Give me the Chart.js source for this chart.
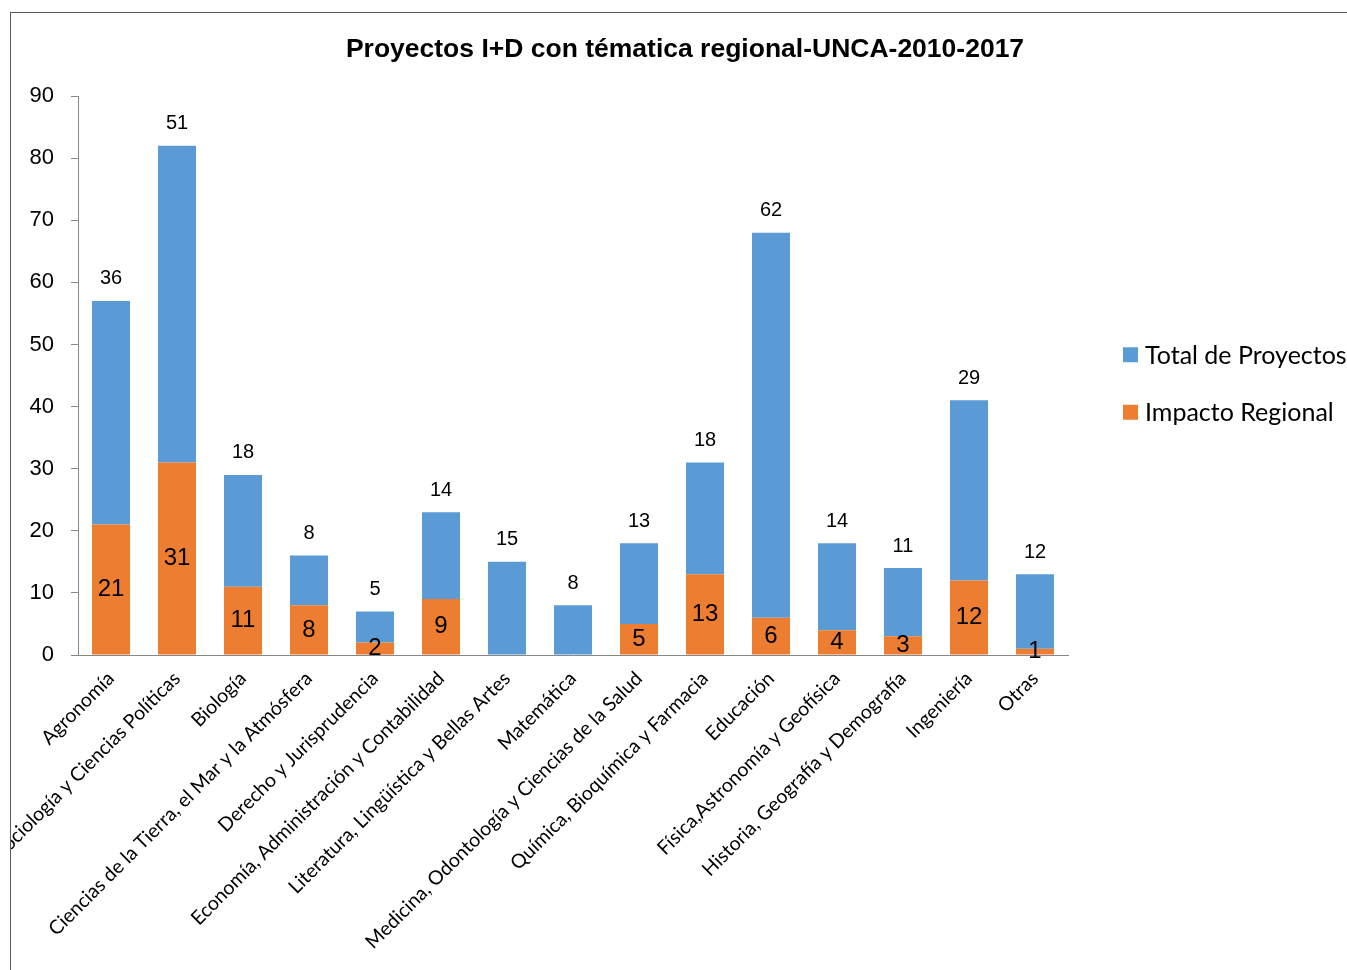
<!DOCTYPE html>
<html>
<head>
<meta charset="utf-8">
<script src="https://cdn.jsdelivr.net/npm/chart.js@4.4.1/dist/chart.umd.min.js"></script>
<style>
html,body{margin:0;padding:0;background:#fff;overflow:hidden;width:1347px;height:970px;}
#frame{position:absolute;left:10px;top:12px;width:1360px;height:980px;border-left:1px solid #595959;border-top:1px solid #595959;overflow:hidden;background:#fff;}
canvas{display:block;}
</style>
</head>
<body>
<div id="frame"><canvas id="c" width="1348" height="957" style="width:1348px;height:957px"></canvas></div>
<script>
// ---- data ----
const categories = [
  "Agronomía",
  "Sociología y Ciencias Políticas",
  "Biología",
  "Ciencias de la Tierra, el Mar y la Atmósfera",
  "Derecho y Jurisprudencia",
  "Economía, Administración y Contabilidad",
  "Literatura, Lingüística y Bellas Artes",
  "Matemática",
  "Medicina, Odontología y Ciencias de la Salud",
  "Química, Bioquímica y Farmacia",
  "Educación",
  "Física,Astronomía y Geofísica",
  "Historia, Geografía y Demografía",
  "Ingeniería",
  "Otras"
];
const impactoRegional = [21, 31, 11, 8, 2, 9, 0, 0, 5, 13, 6, 4, 3, 12, 1];
const totalProyectos  = [36, 51, 18, 8, 5, 14, 15, 8, 13, 18, 62, 14, 11, 29, 12];
const yTicks = [0, 10, 20, 30, 40, 50, 60, 70, 80, 90];
const titleText = "Proyectos I+D con tématica regional-UNCA-2010-2017";
const seriesNames = ["Impacto Regional", "Total de Proyectos"];

// ---- layout constants ----
const CANVAS_W = 1348, CANVAS_H = 957;
const Y_AXIS_W = 67;            // plot left edge
const RIGHT_SPACE = 291;        // room reserved for the legend on the right
const X_AXIS_H = CANVAS_H - 642;

// value labels: inner (orange) centred in segment, outer (blue) above the stack
const valueLabels = {
  id: 'valueLabels',
  afterDatasetsDraw(chart) {
    const ctx = chart.ctx;
    ctx.save();
    ctx.fillStyle = '#000';
    ctx.textAlign = 'center';
    ctx.textBaseline = 'middle';
    chart.data.datasets.forEach((ds, di) => {
      const meta = chart.getDatasetMeta(di);
      meta.data.forEach((bar, i) => {
        const v = ds.data[i];
        if (!v) return;
        if (di === 0) {
          ctx.font = '24px "Liberation Sans"';
          ctx.fillText(String(v), bar.x, (bar.y + bar.base) / 2);
        } else {
          ctx.font = '20px "Liberation Sans"';
          ctx.fillText(String(v), bar.x, bar.y - 22);
        }
      });
    });
    ctx.restore();
  }
};

// legend drawn to the right of the plot, series listed top-of-stack first
const sideLegend = {
  id: 'sideLegend',
  afterDraw(chart) {
    const {ctx, chartArea} = chart;
    const items = chart.data.datasets.map(ds => ({text: ds.label, color: ds.backgroundColor})).reverse();
    const box = 15, step = 57.5;
    const x0 = chartArea.right + 55;
    const yMid = (chartArea.top + chartArea.bottom) / 2 + 8;
    const yStart = yMid - step * (items.length - 1) / 2;
    ctx.save();
    ctx.font = '25px Lato';
    ctx.textAlign = 'left';
    ctx.textBaseline = 'middle';
    items.forEach((it, i) => {
      const cy = yStart + i * step;
      ctx.fillStyle = it.color;
      ctx.fillRect(x0, cy - box / 2, box, box);
      ctx.fillStyle = '#000';
      ctx.fillText(it.text, x0 + box + 7, cy + 1);
    });
    ctx.restore();
  }
};

new Chart(document.getElementById('c'), {
  type: 'bar',
  data: {
    labels: categories,
    datasets: [
      {label: seriesNames[0], data: impactoRegional, backgroundColor: '#ED7D31', borderWidth: 0,
       categoryPercentage: 1, barPercentage: 0.576},
      {label: seriesNames[1], data: totalProyectos, backgroundColor: '#5B9BD5', borderWidth: 0,
       categoryPercentage: 1, barPercentage: 0.576}
    ]
  },
  options: {
    responsive: false,
    animation: false,
    devicePixelRatio: 1,
    layout: {padding: 0},
    scales: {
      x: {
        stacked: true,
        grid: {drawOnChartArea: false, drawTicks: false, color: '#888'},
        border: {display: true, color: '#888', width: 1},
        ticks: {
          autoSkip: false, minRotation: 45, maxRotation: 45, padding: 12,
          color: '#000', font: {family: 'Lato', size: 19.5}
        },
        afterFit(s) { s.height = X_AXIS_H; }
      },
      y: {
        stacked: true,
        min: 0, max: 90,
        afterBuildTicks(s) { s.ticks = yTicks.map(v => ({value: v})); },
        grid: {drawOnChartArea: false, drawTicks: true, tickLength: 7, color: '#888'},
        border: {display: true, color: '#888', width: 1},
        ticks: {padding: 17, color: '#000', font: {family: 'Liberation Sans', size: 22}},
        afterFit(s) { s.width = Y_AXIS_W; }
      },
      legendSpace: {
        type: 'linear', position: 'right', display: true,
        grid: {display: false}, border: {display: false}, ticks: {display: false},
        afterFit(s) { s.width = RIGHT_SPACE; }
      }
    },
    plugins: {
      title: {
        display: true, text: titleText, color: '#000',
        font: {family: 'Liberation Sans', size: 26.5, weight: 'bold'},
        padding: {top: 21, bottom: 30.2}
      },
      legend: {display: false},
      tooltip: {enabled: false}
    }
  },
  plugins: [valueLabels, sideLegend]
});
</script>
</body>
</html>
